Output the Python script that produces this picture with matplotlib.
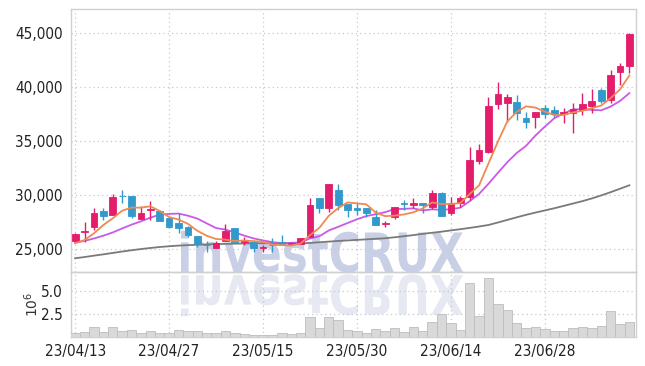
import matplotlib
matplotlib.use('Agg')
import matplotlib.pyplot as plt
import numpy as np
from matplotlib.textpath import TextPath
from matplotlib.patches import PathPatch
from matplotlib.font_manager import FontProperties
from matplotlib.transforms import Affine2D, IdentityTransform
from matplotlib.ticker import FuncFormatter

# daily OHLC (60 sessions)
opens = [25770, 26550, 27060, 28520, 28150, 29950, 29900, 27800, 28650, 28520,
         27900, 27435, 27060, 26230, 25400, 25120, 25770, 26920, 25650, 25680,
         25100, 25400, 25600, 25450, 25460, 26080, 29690, 28770, 30460, 29170,
         28750, 28770, 27930, 27330, 27930, 29250, 29050, 29290, 28860, 30160,
         28360, 29290, 29840, 33180, 34010, 38400, 38490, 38580, 37100, 37250,
         38030, 37870, 37470, 37620, 37870, 38270, 39720, 38800, 41420, 41970]
highs = [26450, 27530, 28770, 28770, 30090, 30460, 29900, 29000, 29470, 28600,
         27950, 28300, 27100, 26230, 25740, 25770, 27290, 26950, 26140, 25700,
         25370, 26000, 26300, 25600, 26050, 29690, 29690, 31020, 31020, 29170,
         29290, 28770, 28610, 27600, 28860, 29540, 29690, 29290, 30460, 30300,
         29840, 29900, 34470, 34720, 39100, 40430, 39320, 39260, 37710, 37650,
         38330, 38240, 38030, 38490, 39420, 39790, 39880, 41570, 42250, 45030]
lows = [25700, 25680, 26760, 27690, 28100, 29230, 27900, 27800, 27690, 27620,
        26940, 26450, 26140, 25210, 24750, 25120, 25770, 25650, 25370, 24750,
        24750, 24750, 25370, 25400, 25460, 26080, 28300, 28400, 28610, 27930,
        28150, 27930, 27220, 27070, 27740, 28610, 28770, 28300, 28680, 28080,
        28150, 28860, 29540, 32840, 33920, 37960, 36790, 36940, 36180, 36180,
        37100, 37250, 36640, 35770, 37410, 37620, 38490, 38550, 40190, 41270]
closes = [26360, 26650, 28300, 28080, 29810, 29880, 28080, 28300, 28700, 27620,
          27060, 26970, 26300, 25460, 25340, 25530, 26670, 25680, 25700, 25060,
          25200, 25340, 25450, 25530, 25990, 29070, 28770, 31020, 29070, 28610,
          28650, 28300, 27220, 27400, 28860, 29200, 29290, 29050, 30160, 28080,
          29230, 29750, 33240, 34170, 38240, 39320, 39100, 37620, 36790, 37650,
          37470, 37470, 37710, 37940, 38400, 38700, 38700, 41110, 41970, 44910]

# volume in millions of shares
volume_m = [0.43, 0.50, 1.07, 0.54, 1.07, 0.68, 0.75, 0.43, 0.64, 0.43,
            0.39, 0.75, 0.68, 0.61, 0.40, 0.43, 0.68, 0.43, 0.32, 0.21,
            0.21, 0.21, 0.43, 0.29, 0.43, 2.14, 1.00, 2.14, 1.82, 0.75,
            0.61, 0.43, 0.82, 0.66, 0.96, 0.55, 1.07, 0.68, 1.60, 2.46,
            1.50, 0.75, 5.79, 2.25, 6.32, 3.54, 2.89, 1.50, 0.96, 1.07,
            0.86, 0.68, 0.68, 0.96, 1.07, 0.96, 1.18, 2.79, 1.43, 1.61]

# moving averages as drawn
ma5 = [25530, 25830, 26450, 27220, 27840, 28544, 28830, 28830, 28954, 28516,
       27952, 27730, 27330, 26682, 26226, 25920, 25860, 25736, 25784, 25728,
       25662, 25396, 25350, 25316, 25502, 26276, 26962, 28076, 28784, 29308,
       29224, 29130, 28370, 28036, 28086, 28196, 28394, 28760, 29312, 29156,
       29162, 29254, 30092, 30894, 32926, 34944, 36814, 37690, 38214, 38096,
       37726, 37400, 37418, 37648, 37798, 38044, 38290, 38970, 39776, 41078]
ma10 = [25580, 25750, 25970, 26230, 26530, 26900, 27250, 27560, 27900, 28178,
        28248, 28280, 28080, 27818, 27371, 26936, 26795, 26533, 26233, 25977,
        25791, 25628, 25543, 25550, 25615, 25969, 26179, 26713, 27050, 27405,
        27750, 28046, 28223, 28410, 28697, 28710, 28762, 28565, 28674, 28621,
        28679, 28824, 29426, 30103, 31041, 32053, 33034, 33891, 34554, 35511,
        36335, 37107, 37554, 37931, 37947, 37885, 37845, 38194, 38712, 39438]
ma_long = [24140, 24250, 24380, 24500, 24630, 24760, 24880, 24990, 25090, 25180,
           25250, 25310, 25350, 25390, 25420, 25450, 25470, 25490, 25510, 25520,
           25530, 25540, 25550, 25560, 25500, 25560, 25620, 25680, 25740, 25790,
           25840, 25890, 25940, 25990, 26080, 26180, 26280, 26400, 26500, 26600,
           26720, 26830, 26950, 27080, 27220, 27450, 27690, 27930, 28160, 28370,
           28570, 28770, 28990, 29210, 29430, 29680, 29960, 30260, 30580, 30900]

tick_pos = [0, 10, 20, 30, 40, 50]
tick_labels = ['23/04/13', '23/04/27', '23/05/15', '23/05/30', '23/06/14', '23/06/28']

UP = '#e31c6b'
DOWN = '#3399cc'
GRID = '#c5c8d8'
SPINE = '#d0d0d0'
LABEL_FP = FontProperties(family=['DejaVu Sans'], stretch='condensed', size=11)

fig = plt.figure(figsize=(6.45, 3.66), dpi=100)
fig.patch.set_facecolor('white')
ax = fig.add_axes([0.110, 0.257, 0.876, 0.718])
axv = fig.add_axes([0.110, 0.079, 0.876, 0.178], sharex=ax)

o = np.array(opens); c = np.array(closes)
h = np.array(highs); l = np.array(lows)
x = np.arange(len(o))
up = c >= o
cols = np.where(up, UP, DOWN)

# watermark + its reflection, behind everything
fp = FontProperties(family='DejaVu Sans', weight='bold')
tp = TextPath((0, 0), 'investCRUX', size=100, prop=fp)
cap = TextPath((0, 0), 'C', size=100, prop=fp).get_extents()
bb = tp.get_extents()
sx = 282 / bb.width
sy = 41 / cap.height
wm = Affine2D().translate(-bb.x0, 0).scale(sx, sy).translate(181, 94)
wm_m = Affine2D().translate(-bb.x0, 0).scale(sx, -sy).translate(181, 91)
fig.add_artist(PathPatch(wm.transform_path(tp), transform=IdentityTransform(),
                         facecolor='#c9cfe5', edgecolor='none', zorder=-2))
fig.add_artist(PathPatch(wm_m.transform_path(tp), transform=IdentityTransform(),
                         facecolor='#e6e8f2', edgecolor='none', zorder=-2))

for a in (ax, axv):
    a.set_facecolor('none')
    a.grid(True, linestyle=(0, (1, 2.5)), color=GRID, linewidth=0.9)
    a.set_axisbelow(True)
    for s in a.spines.values():
        s.set_color(SPINE)
        s.set_linewidth(1.0)
    a.tick_params(length=0, colors='#222222')

# candles
ax.vlines(x, l, h, colors=cols, linewidth=1.0, zorder=3)
body_h = np.maximum(np.abs(c - o), 40)
ax.bar(x, body_h, bottom=np.minimum(o, c), width=0.72, color=cols,
       edgecolor=cols, linewidth=0.6, zorder=4)

ax.plot(x, ma_long, color='#7a7a7a', linewidth=1.3, zorder=2)
ax.plot(x, ma10, color='#c95ae6', linewidth=1.3, zorder=2)
ax.plot(x, ma5, color='#ef8a52', linewidth=1.3, zorder=5)

ax.set_xlim(-0.45, 59.7)
ax.set_ylim(22870, 47220)
ax.set_yticks([25000, 30000, 35000, 40000, 45000])
ax.yaxis.set_major_formatter(FuncFormatter(lambda v, p: f'{int(v):,}'))
ax.tick_params(axis='y', pad=6)
plt.setp(ax.get_xticklabels(), visible=False)

# volume
axv.bar(x, volume_m, width=1.0, color='#d9d9d9', edgecolor='#bdbdbd',
        linewidth=0.6, zorder=3)
axv.set_ylim(0, 7.0)
axv.set_yticks([2.5, 5.0])
axv.yaxis.set_major_formatter(FuncFormatter(lambda v, p: f'{v:.1f}'))
axv.set_ylabel(r'$10^{6}$', fontsize=10, color='#333333', labelpad=0)
axv.set_xticks(tick_pos)
axv.set_xticklabels(tick_labels)
axv.tick_params(axis='x', pad=5)
axv.tick_params(axis='y', pad=6)

for lab in ax.get_yticklabels() + axv.get_yticklabels() + axv.get_xticklabels():
    lab.set_fontproperties(LABEL_FP)

fig.savefig('out.png', dpi=100)
